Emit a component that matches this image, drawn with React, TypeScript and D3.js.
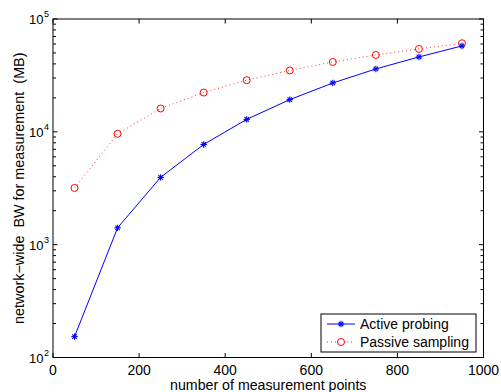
import React from "react";
import * as d3 from "d3";

const measurementPoints = [50, 150, 250, 350, 450, 550, 650, 750, 850, 950];
const activeProbing = [153, 1410, 3950, 7730, 12900, 19300, 27100, 36100, 46100, 57700];
const passiveSampling = [3180, 9600, 16100, 22300, 28700, 35000, 41600, 48000, 54300, 61000];
const xTicks = [0, 200, 400, 600, 800, 1000];
const yDecades = [2, 3, 4, 5];

const W = 501;
const H = 392;
const M = { left: 53, right: 17.5, top: 19, bottom: 34.5 };

export default function App() {
  const x = d3.scaleLinear().domain([0, 1000]).range([M.left, W - M.right]);
  const y = d3.scaleLog().domain([100, 100000]).range([H - M.bottom, M.top]);
  const x0 = M.left, x1 = W - M.right, y0 = H - M.bottom, y1 = M.top;

  const line = d3
    .line<number>()
    .x((_, i) => x(measurementPoints[i]))
    .y((v) => y(v));

  const minorTicks: number[] = [];
  for (let d = 2; d < 5; d++) {
    for (let k = 2; k <= 9; k++) minorTicks.push(k * Math.pow(10, d));
  }

  const font = "Liberation Sans, Arial, Helvetica, sans-serif";
  const star = (cx: number, cy: number, key: string | number) => {
    const r = 3.2;
    const a = r * 0.7;
    return (
      <g key={key} stroke="#0000ff" strokeWidth={1.1}>
        <line x1={cx - r} y1={cy} x2={cx + r} y2={cy} />
        <line x1={cx} y1={cy - r} x2={cx} y2={cy + r} />
        <line x1={cx - a} y1={cy - a} x2={cx + a} y2={cy + a} />
        <line x1={cx - a} y1={cy + a} x2={cx + a} y2={cy - a} />
      </g>
    );
  };

  const lx = 321, ly = 314, lw = 155, lh = 38;

  return (
    <svg
      width={W}
      height={H}
      style={{ position: "absolute", left: 0, top: 0, background: "#fff" }}
      fontFamily={font}
    >
      <rect x={0} y={0} width={W} height={H} fill="#fff" />

      {/* passive sampling series */}
      <path
        d={line(passiveSampling) || ""}
        fill="none"
        stroke="#ff0000"
        strokeWidth={1}
        strokeDasharray="1 3"
        opacity={0.8}
      />
      {passiveSampling.map((v, i) => (
        <circle
          key={"p" + i}
          cx={x(measurementPoints[i])}
          cy={y(v)}
          r={3.5}
          fill="none"
          stroke="#ff0000"
          strokeWidth={1}
        />
      ))}

      {/* active probing series */}
      <path d={line(activeProbing) || ""} fill="none" stroke="#0000ff" strokeWidth={1} />
      {activeProbing.map((v, i) => star(x(measurementPoints[i]), y(v), "a" + i))}

      {/* axes box */}
      <rect x={x0} y={y1} width={x1 - x0} height={y0 - y1} fill="none" stroke="#000" strokeWidth={1} />

      {/* x ticks */}
      {xTicks.map((t) => (
        <g key={"xt" + t}>
          <line x1={x(t)} x2={x(t)} y1={y0} y2={y0 - 4.5} stroke="#000" />
          <line x1={x(t)} x2={x(t)} y1={y1} y2={y1 + 4.5} stroke="#000" />
          <text x={x(t)} y={y0 + 17} textAnchor="middle" fontSize={14} fill="#000">
            {t}
          </text>
        </g>
      ))}

      {/* y ticks */}
      {yDecades.map((d) => {
        const yy = y(Math.pow(10, d));
        return (
          <g key={"yt" + d}>
            <line x1={x0} x2={x0 + 4.5} y1={yy} y2={yy} stroke="#000" />
            <line x1={x1} x2={x1 - 4.5} y1={yy} y2={yy} stroke="#000" />
            <text x={x0 - 9.5} y={yy + 5} textAnchor="end" fontSize={13} fill="#000">
              10
            </text>
            <text x={x0 - 9} y={yy - 2} textAnchor="start" fontSize={9} fill="#000">
              {d}
            </text>
          </g>
        );
      })}
      {minorTicks.map((v) => (
        <g key={"ym" + v}>
          <line x1={x0} x2={x0 + 3} y1={y(v)} y2={y(v)} stroke="#000" />
          <line x1={x1} x2={x1 - 3} y1={y(v)} y2={y(v)} stroke="#000" />
        </g>
      ))}

      {/* axis titles */}
      <text x={(x0 + x1) / 2} y={H - 2.5} textAnchor="middle" fontSize={14.2} fill="#000">
        number of measurement points
      </text>
      <text
        transform={`translate(23.5,${(y0 + y1) / 2}) rotate(-90)`}
        textAnchor="middle"
        fontSize={14.4}
        fill="#000"
        style={{ whiteSpace: "pre" }}
      >
        {"network\u2212wide  BW for measurement  (MB)"}
      </text>

      {/* legend */}
      <rect x={lx} y={ly} width={lw} height={lh} fill="#fff" stroke="#000" strokeWidth={1} />
      <line x1={lx + 6} x2={lx + 34} y1={ly + 10} y2={ly + 10} stroke="#0000ff" />
      {star(lx + 20, ly + 10, "ls")}
      <text x={lx + 39} y={ly + 15} fontSize={14} fill="#000">
        Active probing
      </text>
      <line
        x1={lx + 6}
        x2={lx + 34}
        y1={ly + 28}
        y2={ly + 28}
        stroke="#ff0000"
        strokeDasharray="1 3"
        opacity={0.8}
      />
      <circle cx={lx + 20} cy={ly + 28} r={3.5} fill="#fff" stroke="#ff0000" />
      <text x={lx + 39} y={ly + 33} fontSize={14} fill="#000">
        Passive sampling
      </text>
    </svg>
  );
}
